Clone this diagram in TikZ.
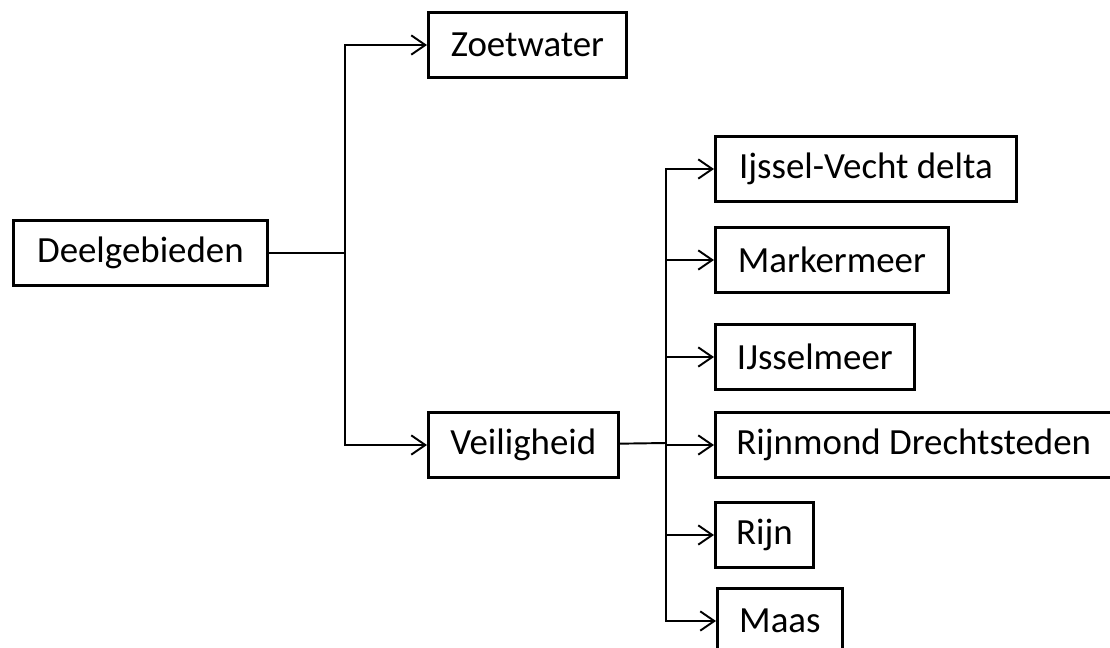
\documentclass[tikz,border=0pt]{standalone}
\usepackage{fontspec}
\setmainfont{Carlito}
\usetikzlibrary{arrows.meta, positioning}

\begin{document}
\begin{tikzpicture}[x=0.02cm, y=-0.02cm, every node/.style={font=\fontsize{21}{24}\selectfont},
    box/.style={draw, line width=1.6pt, minimum height=1.3cm, inner sep=0pt, anchor=west},
    link/.style={line width=1.1pt, -{Straight Barb[length=8pt, width=11pt, line width=1.1pt]}}]
    \useasboundingbox (0,0) rectangle (1110,647);

    % Root
    \node[box, minimum width=5.08cm] (deel) at (12,253) {Deelgebieden};

    % First level
    \node[box, minimum width=3.96cm] (zoet) at (427,45) {Zoetwater};
    \node[box, minimum width=3.8cm] (veil) at (427,445) {Veiligheid};

    % Veiligheid areas
    \node[box, minimum width=6.02cm] (ijsvecht) at (714,169) {Ijssel-Vecht delta};
    \node[box, minimum width=4.66cm] (marker) at (714,260) {Markermeer};
    \node[box, minimum width=3.98cm] (ijsmeer) at (714,357) {IJsselmeer};
    \node[box, inner xsep=0.42cm] (rijnmond) at (714,445) {\makebox[9.16cm][l]{Rijnmond Drechtsteden}};
    \node[box, minimum width=1.96cm] (rijn) at (714,535) {Rijn};
    \node[box, minimum width=2.5cm] (maas) at (716,621) {Maas};

    % Branch points
    \coordinate (split) at (345,253);
    \coordinate (fork) at (666,443);

    % Arrows
    \draw[line width=1.1pt] (deel) -- (split);
    \draw[link] (split) |- (zoet);
    \draw[link] (split) |- (veil);
    \draw[line width=1.1pt] (veil) -- (fork);
    \foreach \n in {ijsvecht, marker, ijsmeer, rijnmond, rijn, maas}
        \draw[link] (fork) |- (\n);
\end{tikzpicture}
\end{document}
